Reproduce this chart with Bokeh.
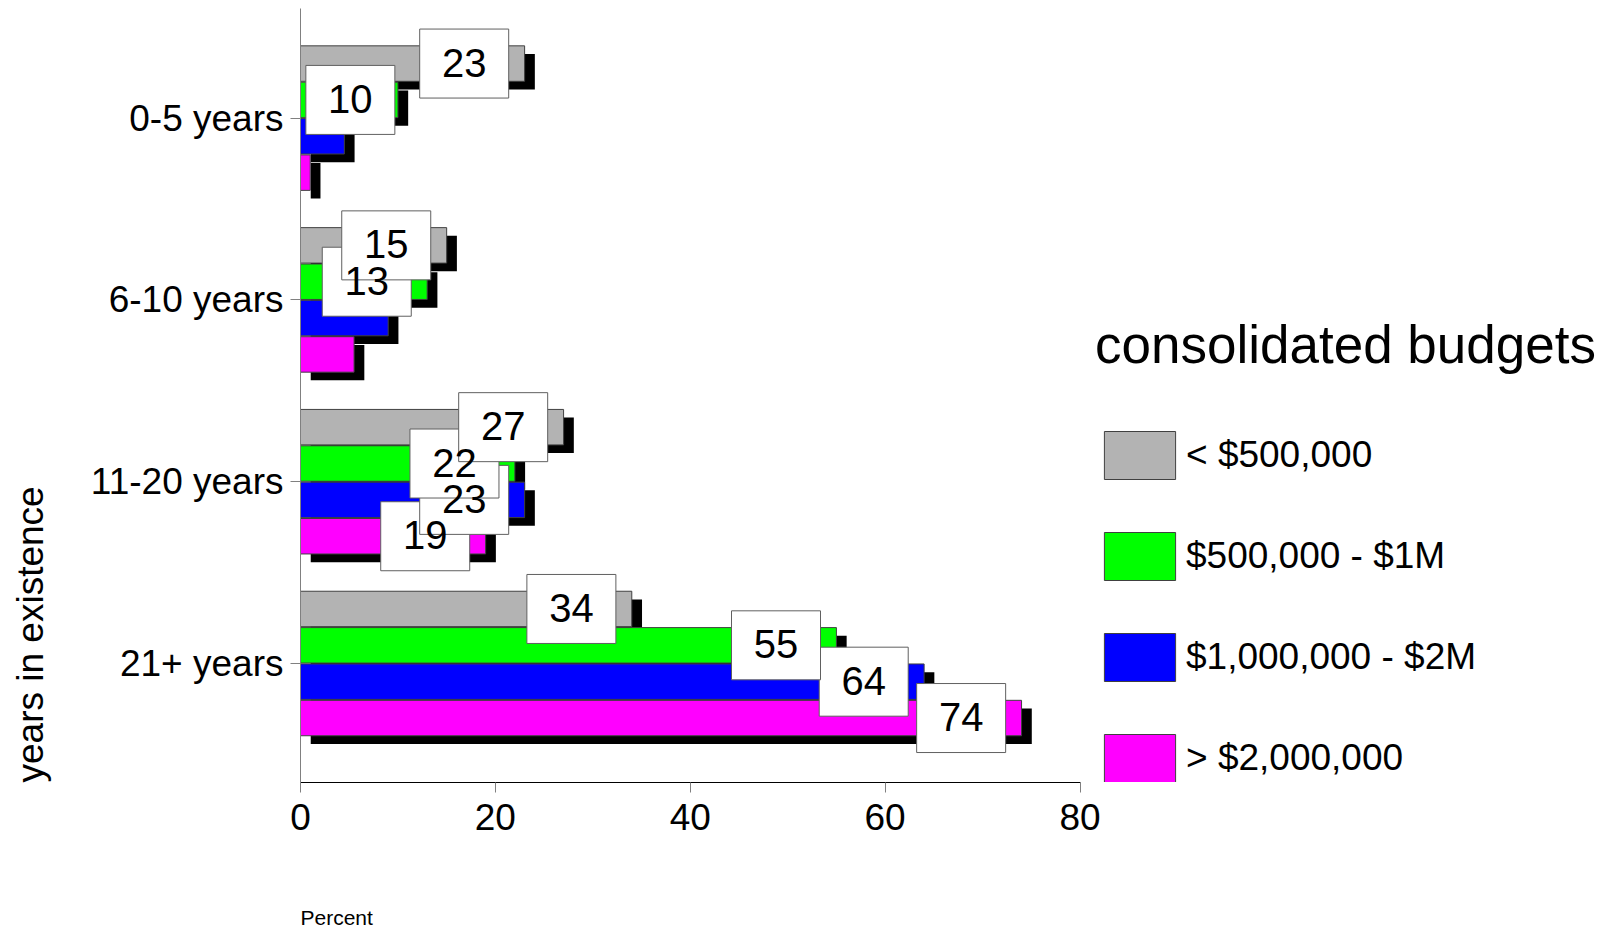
import math
from bokeh.plotting import figure
from bokeh.layouts import row, column
from bokeh.models import Range1d, FixedTicker, Legend, LegendItem
from bokeh.embed import file_html
from bokeh.resources import INLINE
from bokeh.core.properties import value

# ---------------- data ----------------
categories = ["0-5 years", "6-10 years", "11-20 years", "21+ years"]
series_names = ["< $500,000", "$500,000 - $1M", "$1,000,000 - $2M", "> $2,000,000"]
budget_lt_500k = [23, 15, 27, 34]
budget_500k_1m = [10, 13, 22, 55]
budget_1m_2m = [4.5, 9, 23, 64]
budget_gt_2m = [1, 5.5, 19, 74]
x_ticks = [0, 20, 40, 60, 80]
legend_title = "consolidated budgets"
y_title = "years in existence"
x_title = "Percent"
label_min_value = 10  # values below this carry no value box

series_values = [budget_lt_500k, budget_500k_1m, budget_1m_2m, budget_gt_2m]

# ---------------- style / layout ----------------
FONT = "Liberation Sans"
colors = ["#b3b3b3", "#00ff00", "#0000ff", "#ff00ff"]
offsets = [0.3, 0.1, -0.1, -0.3]
BAR_H = 0.195
PAGE_W, PAGE_H = 1602, 928
STRIP_W = 52          # left strip holding the vertical axis title
MAIN_H = 868          # main chart height; a strip below holds "Percent"
W = PAGE_W - STRIP_W
LEFT, TOP = 300 - STRIP_W, 8
FRAME_BOTTOM = 782
BOTTOM = MAIN_H - FRAME_BOTTOM
PX = 9.744       # pixels per percent
CAT_PX = 181.8   # pixels per category
frame_w = W - LEFT
frame_h = MAIN_H - TOP - BOTTOM
x_end = frame_w / PX
y_start = -119.0 / CAT_PX
y_end = y_start + frame_h / CAT_PX

cat_y = [len(categories) - 1 - i for i in range(len(categories))]

p = figure(width=W, height=MAIN_H, output_backend="svg", toolbar_location=None,
           x_range=Range1d(0, x_end), y_range=Range1d(y_start, y_end),
           min_border_left=LEFT, min_border_right=0, min_border_top=TOP,
           min_border_bottom=BOTTOM)
p.outline_line_color = None
p.grid.visible = False
p.background_fill_color = "white"

# shadows
SH_X, SH_Y = 1.05, 0.045
for vals, off in zip(series_values, offsets):
    p.hbar(y=[c + off - SH_Y for c in cat_y], left=SH_X,
           right=[v + SH_X for v in vals], height=BAR_H,
           fill_color="black", line_color=None)

# bars
bar_renderers = []
for vals, off, col in zip(series_values, offsets, colors):
    r = p.hbar(y=[c + off for c in cat_y], left=0, right=vals, height=BAR_H,
               fill_color=col, line_color="#404040", line_width=1)
    bar_renderers.append(r)

# value boxes: all boxes first (last series at the bottom), then all numbers
BOX_W = 89 / PX
BOX_H = 69 / CAT_PX
BOX_SHIFT = 6.2
BOX_MIN_X = BOX_W / 2 + 0.55
label_sets = []
for vals, off in reversed(list(zip(series_values, offsets))):
    xs, ys, ts = [], [], []
    for c, v in zip(cat_y, vals):
        if v >= label_min_value:
            xs.append(max(v - BOX_SHIFT, BOX_MIN_X))
            ys.append(c + off)
            ts.append(f"{v:g}")
    label_sets.append((xs, ys, ts))
    p.rect(x=xs, y=ys, width=BOX_W, height=BOX_H, fill_color="white",
           line_color="#606060", line_width=1)
for xs, ys, ts in label_sets:
    p.text(x=xs, y=ys, text=ts, text_font=value(FONT), text_font_size="40px",
           text_align="center", text_baseline="middle", text_color="black",
           y_offset=-1)

# x axis
xa = p.xaxis[0]
xa.ticker = FixedTicker(ticks=x_ticks)
xa.bounds = (x_ticks[0], x_ticks[-1])
xa.axis_line_color = "black"
xa.axis_line_width = 1
xa.major_tick_line_color = "#808080"
xa.major_tick_out = 10
xa.major_tick_in = 0
xa.minor_tick_line_color = None
xa.major_label_text_font = FONT
xa.major_label_text_font_size = "37px"
xa.major_label_text_color = "black"
xa.major_label_standoff = 11

# y axis
ya = p.yaxis[0]
ya.ticker = FixedTicker(ticks=cat_y)
ya.major_label_overrides = {c: name for c, name in zip(cat_y, categories)}
ya.axis_line_color = "#808080"
ya.major_tick_line_color = "#808080"
ya.major_tick_out = 10
ya.major_tick_in = 0
ya.minor_tick_line_color = None
ya.major_label_text_font = FONT
ya.major_label_text_font_size = "37px"
ya.major_label_text_color = "black"
ya.major_label_standoff = 7

# legend
legend = Legend(items=[LegendItem(label=n, renderers=[r]) for n, r in zip(series_names, bar_renderers)],
                location=(795, -6), title=legend_title,
                title_text_font=FONT, title_text_font_size="53px", title_text_font_style="normal",
                title_text_color="black", title_standoff=50,
                label_text_font=FONT, label_text_font_size="37px", label_text_color="black",
                glyph_width=89, glyph_height=60, label_height=60, spacing=41,
                label_standoff=2, padding=0, margin=0,
                border_line_color=None, background_fill_alpha=0)
p.add_layout(legend)


def strip(width, height, x_range=None):
    s = figure(width=width, height=height, output_backend="svg", toolbar_location=None,
               x_range=x_range if x_range is not None else Range1d(0, width),
               y_range=Range1d(0, height),
               x_axis_location=None, y_axis_location=None,
               min_border=0, min_border_left=0, min_border_right=0,
               min_border_top=0, min_border_bottom=0)
    s.outline_line_color = None
    s.grid.visible = False
    s.background_fill_color = "white"
    return s


# vertical axis title strip (text ends at the frame bottom)
left_strip = strip(STRIP_W, PAGE_H)
left_strip.text(x=[29.5], y=[PAGE_H - FRAME_BOTTOM], text=[y_title], angle=math.pi / 2,
                text_align="left", text_baseline="alphabetic",
                text_font=value(FONT), text_font_size="37px", text_color="black")

# "Percent" strip under the chart; shares the value axis range so it starts at 0
bottom_strip = strip(W, PAGE_H - MAIN_H, x_range=p.x_range)
bottom_strip.text(x=[x_ticks[0]], y=[11], text=[x_title], text_align="left",
                  text_baseline="alphabetic", text_font=value(FONT),
                  text_font_size="21px", text_color="black")

layout = row(left_strip, column(p, bottom_strip, spacing=0), spacing=0)
open("out.html", "w").write(file_html(layout, INLINE))
